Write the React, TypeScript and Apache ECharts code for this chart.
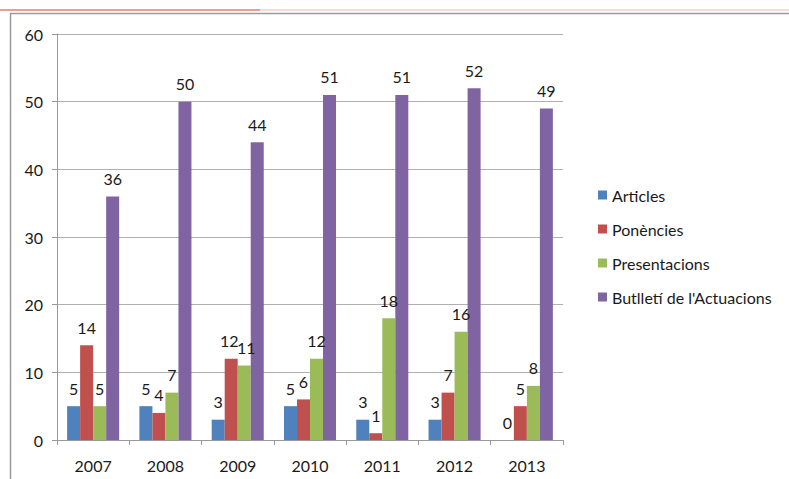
import React, { useEffect, useRef } from "react";
import * as echarts from "echarts";

const years = ["2007", "2008", "2009", "2010", "2011", "2012", "2013"];
const articles = [5, 5, 3, 5, 3, 3, 0];
const ponencies = [14, 4, 12, 6, 1, 7, 5];
const presentacions = [5, 7, 11, 12, 18, 16, 8];
const butlleti = [36, 50, 44, 51, 51, 52, 49];
const seriesNames = ["Articles", "Ponències", "Presentacions", "Butlletí de l'Actuacions"];
const colors = ["#4F81BD", "#C0504D", "#9BBB59", "#8064A2"];

const FONT = "Lato, 'Open Sans', sans-serif";

export default function App() {
  const ref = useRef<HTMLDivElement>(null);
  useEffect(() => {
    if (!ref.current) return;
    const chart = echarts.init(ref.current, undefined, { renderer: "svg" });
    const data = [articles, ponencies, presentacions, butlleti];
    chart.setOption({
      animation: false,
      backgroundColor: "#ffffff",
      color: colors,
      textStyle: { fontFamily: FONT },
      grid: { left: 57, right: 226, top: 34, bottom: 39, containLabel: false },
      legend: {
        orient: "vertical",
        left: 593,
        top: 182,
        itemWidth: 9,
        itemHeight: 9,
        itemGap: 18,
        icon: "rect",
        textStyle: { fontSize: 16, color: "#1a1a1a", fontFamily: FONT },
        data: seriesNames,
      },
      xAxis: {
        type: "category",
        data: years,
        axisLine: { lineStyle: { color: "#999" } },
        axisTick: { show: true, length: 5, lineStyle: { color: "#999" } },
        axisLabel: { fontSize: 16, color: "#1a1a1a", margin: 17, fontFamily: FONT },
      },
      yAxis: {
        type: "value",
        min: 0,
        max: 60,
        interval: 10,
        axisLine: { show: true, lineStyle: { color: "#999" } },
        axisTick: { show: true, length: 5, lineStyle: { color: "#999" } },
        axisLabel: { fontSize: 16, color: "#1a1a1a", margin: 14, fontFamily: FONT },
        splitLine: { lineStyle: { color: "#b0b0b0" } },
      },
      series: seriesNames.map((name, i) => ({
        name,
        type: "bar",
        data: data[i].map((v, j) => {
          // nudge crowded neighbouring labels apart (2009: 12 / 11)
          if (j === 2 && i === 1) return { value: v, label: { offset: [-2, 0] } };
          if (j === 2 && i === 2) return { value: v, label: { offset: [2, 0] } };
          return v;
        }),
        barGap: "0%",
        barCategoryGap: "28%",
        label: {
          show: true,
          position: "top",
          fontSize: 16,
          color: "#1a1a1a",
          fontFamily: FONT,
          distance: 10,
        },
      })),
      graphic: [
        {
          type: "line",
          shape: { x1: 0, y1: 10, x2: 789, y2: 10 },
          style: { stroke: "#ecd2c8", lineWidth: 1.5 },
        },
        {
          type: "line",
          shape: { x1: 0, y1: 10, x2: 260, y2: 10 },
          style: { stroke: "#e58a78", lineWidth: 1.5 },
        },
        {
          type: "line",
          shape: { x1: 10, y1: 13.5, x2: 789, y2: 13.5 },
          style: { stroke: "#9a9a9a", lineWidth: 1.5 },
        },
        {
          type: "line",
          shape: { x1: 10.5, y1: 13, x2: 10.5, y2: 479 },
          style: { stroke: "#9a9a9a", lineWidth: 1.5 },
        },
      ],
    });
    return () => chart.dispose();
  }, []);
  return (
    <div
      ref={ref}
      style={{ position: "absolute", left: 0, top: 0, width: 789, height: 479 }}
    />
  );
}
